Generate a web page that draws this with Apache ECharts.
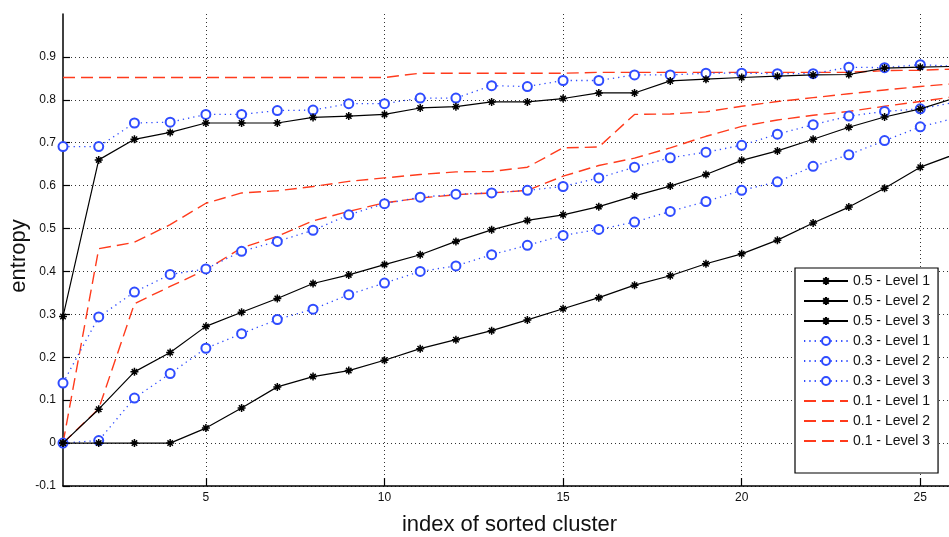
<!DOCTYPE html>
<html>
<head>
<meta charset="utf-8">
<script src="https://cdn.jsdelivr.net/npm/echarts@6/dist/echarts.min.js"></script>
<style>
  html, body { margin: 0; padding: 0; background: #fff; }
  #chart { width: 949px; height: 537px; }
</style>
</head>
<body>
<div id="chart"></div>
<script>
// Cluster index (sorted), shared by every curve
const clusterIndex = [1, 2, 3, 4, 5, 6, 7, 8, 9, 10, 11, 12, 13, 14, 15, 16, 17, 18, 19, 20, 21, 22, 23, 24, 25, 26];

// Entropy per threshold / level
const t05Level1 = [0.295, 0.66, 0.708, 0.724, 0.746, 0.746, 0.746, 0.759, 0.762, 0.766, 0.781, 0.784, 0.795, 0.795, 0.803, 0.816, 0.816, 0.844, 0.848, 0.852, 0.855, 0.858, 0.859, 0.874, 0.876, 0.878];
const t05Level2 = [0, 0.079, 0.166, 0.211, 0.272, 0.305, 0.337, 0.372, 0.392, 0.416, 0.439, 0.47, 0.497, 0.519, 0.532, 0.551, 0.576, 0.599, 0.626, 0.659, 0.681, 0.708, 0.736, 0.76, 0.779, 0.805];
const t05Level3 = [0, 0, 0, 0, 0.035, 0.082, 0.131, 0.155, 0.169, 0.193, 0.22, 0.241, 0.262, 0.287, 0.313, 0.339, 0.368, 0.39, 0.418, 0.441, 0.473, 0.513, 0.55, 0.594, 0.643, 0.674];

const t03Level1 = [0.691, 0.691, 0.746, 0.748, 0.766, 0.766, 0.775, 0.776, 0.791, 0.791, 0.804, 0.804, 0.833, 0.831, 0.845, 0.845, 0.858, 0.858, 0.862, 0.862, 0.861, 0.861, 0.876, 0.875, 0.882, 0.878];
const t03Level2 = [0.14, 0.294, 0.352, 0.393, 0.406, 0.447, 0.47, 0.496, 0.532, 0.558, 0.573, 0.58, 0.583, 0.589, 0.598, 0.618, 0.643, 0.665, 0.678, 0.694, 0.72, 0.742, 0.762, 0.773, 0.779, 0.795];
const t03Level3 = [0, 0.006, 0.105, 0.162, 0.221, 0.255, 0.288, 0.312, 0.346, 0.373, 0.4, 0.413, 0.439, 0.461, 0.484, 0.498, 0.515, 0.54, 0.563, 0.589, 0.609, 0.645, 0.672, 0.705, 0.737, 0.758];

const t01Level1 = [0.852, 0.852, 0.852, 0.852, 0.852, 0.852, 0.852, 0.852, 0.852, 0.852, 0.862, 0.862, 0.862, 0.862, 0.862, 0.864, 0.864, 0.864, 0.864, 0.864, 0.864, 0.864, 0.864, 0.868, 0.869, 0.872];
const t01Level2 = [0, 0.453, 0.468, 0.509, 0.559, 0.583, 0.588, 0.598, 0.61, 0.618, 0.626, 0.632, 0.633, 0.643, 0.688, 0.69, 0.766, 0.767, 0.772, 0.785, 0.796, 0.805, 0.814, 0.823, 0.831, 0.838];
const t01Level3 = [0, 0.08, 0.325, 0.365, 0.404, 0.455, 0.482, 0.518, 0.54, 0.56, 0.571, 0.579, 0.583, 0.589, 0.622, 0.647, 0.664, 0.688, 0.715, 0.738, 0.753, 0.764, 0.773, 0.785, 0.796, 0.808];

const seriesNames = [
  '0.5 - Level 1', '0.5 - Level 2', '0.5 - Level 3',
  '0.3 - Level 1', '0.3 - Level 2', '0.3 - Level 3',
  '0.1 - Level 1', '0.1 - Level 2', '0.1 - Level 3'
];
const seriesValues = [t05Level1, t05Level2, t05Level3, t03Level1, t03Level2, t03Level3, t01Level1, t01Level2, t01Level3];

// Tick positions
const xTickValues = [5, 10, 15, 20, 25];
const yTickValues = [-0.1, 0, 0.1, 0.2, 0.3, 0.4, 0.5, 0.6, 0.7, 0.8, 0.9];

const FONT = 'Liberation Sans, Arial, sans-serif';
const BLACK = '#000000';
const BLUE = '#2f4cff';
const RED = '#ff3b1c';
const ASTERISK = 'path://M5,0L5,10M0,5L10,5M1.6,1.6L8.4,8.4M1.6,8.4L8.4,1.6';

function pairs(values) {
  return clusterIndex.map((x, i) => [x, values[i]]);
}

function styleFor(i) {
  const group = Math.floor(i / 3);
  if (group === 0) {
    return {
      symbol: ASTERISK, symbolSize: 8,
      lineStyle: { color: BLACK, width: 1.2, type: 'solid' },
      itemStyle: { color: BLACK, borderColor: BLACK, borderWidth: 1.5 }
    };
  }
  if (group === 1) {
    return {
      symbol: 'emptyCircle', symbolSize: 9,
      lineStyle: { color: BLUE, width: 1.3, type: [1.3, 4] },
      itemStyle: { color: BLUE, borderColor: BLUE, borderWidth: 1.3 }
    };
  }
  return {
    symbol: 'none', symbolSize: 0,
    lineStyle: { color: RED, width: 1.4, type: [12, 6] },
    itemStyle: { color: RED }
  };
}

const series = seriesNames.map((name, i) => Object.assign({
  name: name,
  type: 'line',
  data: pairs(seriesValues[i]),
  showSymbol: true,
  animation: false,
  z: 10 - Math.floor(i / 3),
  emphasis: { disabled: true }
}, styleFor(i)));

// Legend entries: dashed curves show only their line sample
const legendData = seriesNames.map((name, i) => (i >= 6
  ? { name: name, itemStyle: { color: 'rgba(0,0,0,0)', borderWidth: 0, opacity: 0 } }
  : { name: name }));

const chart = echarts.init(document.getElementById('chart'), null, { renderer: 'canvas' });
chart.setOption({
  backgroundColor: '#ffffff',
  animation: false,
  grid: { left: 63, right: -7, top: 14, bottom: 51, containLabel: false, outerBoundsMode: 'none' },
  xAxis: {
    type: 'value', min: 1, max: 26,
    name: 'index of sorted cluster', nameLocation: 'middle', nameGap: 28, nameMoveOverlap: false,
    nameTextStyle: { fontFamily: FONT, fontSize: 22, color: '#111' },
    axisLine: { show: true, onZero: false, lineStyle: { color: '#000', width: 1.5 } },
    axisTick: { show: true, inside: true, length: 8, customValues: xTickValues, lineStyle: { color: '#000', width: 1.2 } },
    axisLabel: { customValues: xTickValues, fontFamily: FONT, fontSize: 12, color: '#111', margin: 6 },
    splitLine: { show: true, lineStyle: { color: '#333', width: 1, type: [1, 3] } }
  },
  yAxis: {
    type: 'value', min: -0.1, max: 1.0,
    name: 'entropy', nameLocation: 'middle', nameGap: 33, nameRotate: 90, nameMoveOverlap: false,
    nameTextStyle: { fontFamily: FONT, fontSize: 22, color: '#111', padding: [0, 12, 0, 0] },
    axisLine: { show: true, onZero: false, lineStyle: { color: '#000', width: 1.5 } },
    axisTick: { show: true, inside: true, length: 7, customValues: yTickValues, lineStyle: { color: '#000', width: 1.2 } },
    axisLabel: {
      customValues: yTickValues,
      fontFamily: FONT, fontSize: 12, color: '#111', margin: 7,
      formatter: function (v) {
        const r = Math.round(v * 10) / 10;
        return r === 0 ? '0' : r.toFixed(1);
      }
    },
    splitLine: { show: true, lineStyle: { color: '#333', width: 1, type: [1, 3] } }
  },
  legend: {
    orient: 'vertical', left: 795, top: 268,
    data: legendData,
    itemWidth: 44, itemHeight: 10, itemGap: 6,
    padding: [6, 8, 25, 8],
    backgroundColor: '#ffffff', borderColor: '#000', borderWidth: 1.2,
    textStyle: { fontFamily: FONT, fontSize: 14, color: '#111' },
    selectedMode: false
  },
  series: series
});
</script>
</body>
</html>
